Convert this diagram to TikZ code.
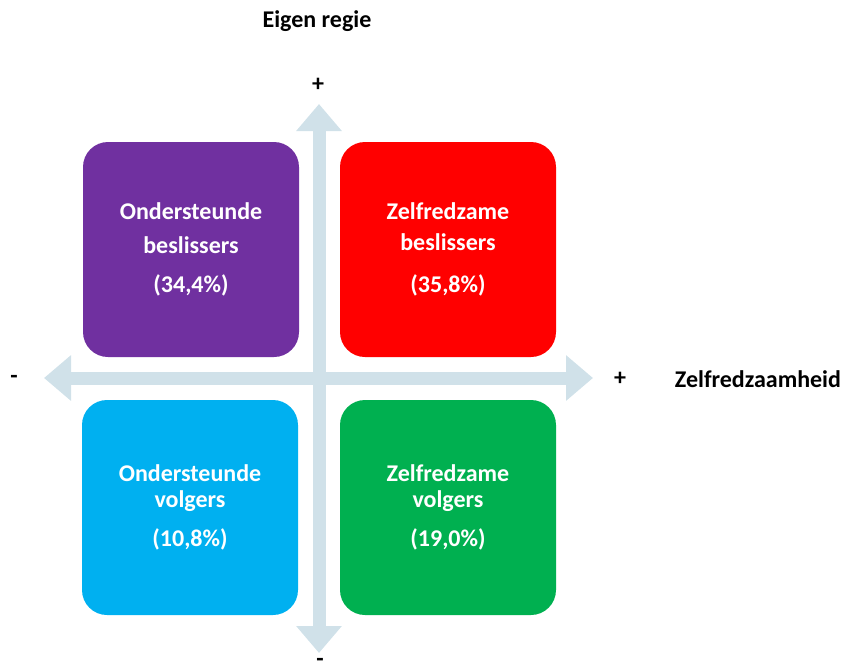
\documentclass[tikz,border=0pt]{standalone}
\usepackage{fontspec}
\setmainfont{Carlito}
\usetikzlibrary{arrows.meta}

\definecolor{paars}{RGB}{112,48,160}
\definecolor{rood}{RGB}{255,0,0}
\definecolor{blauw}{RGB}{0,176,240}
\definecolor{groen}{RGB}{0,176,80}
\definecolor{as}{RGB}{208,225,233}

\tikzset{
	vak/.style={rounded corners=12.5pt, minimum width=108pt, minimum height=107.5pt,
		inner sep=0pt, text=white, align=center,
		font=\fontsize{12}{13}\selectfont\bfseries},
	label/.style={font=\fontsize{12}{13}\selectfont\bfseries, inner sep=0pt},
	aspijl/.style={as, line width=6.5pt,
		{Triangle[width=22pt,length=13.5pt]}-{Triangle[width=22pt,length=13.5pt]}}
}

\begin{document}
\begin{tikzpicture}[x=0.5pt,y=-0.5pt]
\useasboundingbox (0,0) rectangle (843,671);
%%% Assen
	\coordinate (boven) at (319,104) ;
	\coordinate (onder) at (319,653) ;
	\coordinate (links) at (44,378) ;
	\coordinate (rechts) at (593,378) ;
	\draw[aspijl] (onder) -- (boven) ;
	\draw[aspijl] (links) -- (rechts) ;
%%% Kwadranten
	\node[vak, fill=paars] (ob) at (191,249.5) {Ondersteunde\\[4pt] beslissers\\[6.5pt] (34,4\%)} ;
	\node[vak, fill=rood] (zb) at (448,249.5) {Zelfredzame\\[2.5pt] beslissers\\[8pt] (35,8\%)} ;
	\node[vak, fill=blauw] (ov) at (190,507.5) {Ondersteunde\\ volgers\\[6.5pt] (10,8\%)} ;
	\node[vak, fill=groen] (zv) at (448,507.5) {Zelfredzame\\ volgers\\[6.5pt] (19,0\%)} ;
%%% Beschriftung
	\node[label] (titel) at (317,21) {Eigen regie} ;
	\node[label] (plusboven) at (318,85) {+} ;
	\node[label] (minonder) at (320,662) {-} ;
	\node[label] (minlinks) at (14,379) {-} ;
	\node[label] (plusrechts) at (620,379) {+} ;
	\node[label] (zelf) at (758,379) {Zelfredzaamheid} ;
\end{tikzpicture}
\end{document}
